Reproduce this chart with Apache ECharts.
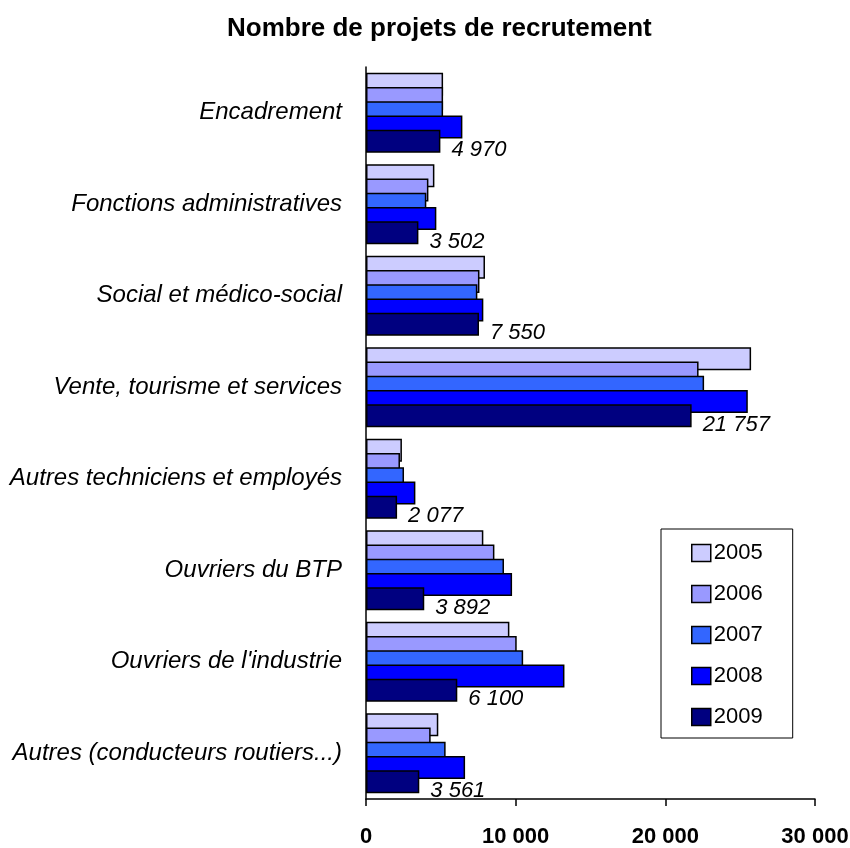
<!DOCTYPE html>
<html>
<head>
<meta charset="utf-8">
<script src="https://cdn.jsdelivr.net/npm/echarts@6/dist/echarts.min.js"></script>
<style>
  html, body { margin: 0; padding: 0; background: #fff; }
  #chart { width: 850px; height: 848px; }
</style>
</head>
<body>
<div id="chart"></div>
<script>
var categories = [
    'Encadrement',
    'Fonctions administratives',
    'Social et médico-social',
    'Vente, tourisme et services',
    'Autres techniciens et employés',
    'Ouvriers du BTP',
    "Ouvriers de l'industrie",
    'Autres (conducteurs routiers...)'
];
var years = ['2005', '2006', '2007', '2008', '2009'];
var v2005 = [5150, 4570, 7950, 25730, 2400, 7840, 9580, 4830];
var v2006 = [5150, 4170, 7580, 22220, 2270, 8580, 10070, 4320];
var v2007 = [5150, 4030, 7440, 22590, 2540, 9220, 10500, 5320];
var v2008 = [6440, 4700, 7840, 25510, 3300, 9760, 13260, 6620];
var v2009 = [4970, 3502, 7550, 21757, 2077, 3892, 6100, 3561];
var xTicks = [0, 10000, 20000, 30000];
var colors = ['#CCCCFF', '#9999FF', '#3366FF', '#0000FF', '#000080'];

var font = "'Liberation Sans', Arial, sans-serif";

function fmt(v) {
    return String(v).replace(/\B(?=(\d{3})+(?!\d))/g, ' ');
}

var chart = echarts.init(document.getElementById('chart'));
var allValues = [v2005, v2006, v2007, v2008, v2009];

var series = years.map(function (y, i) {
    var s = {
        name: y,
        type: 'bar',
        data: allValues[i],
        barWidth: 23,
        barGap: '-38%',
        barCategoryGap: '10%',
        itemStyle: {
            color: colors[i],
            borderColor: '#000',
            borderWidth: 1.5
        }
    };
    if (i === 4) {
        // seule 2009 porte les étiquettes
        s.label = {
            show: true,
            position: 'right',
            distance: 11,
            offset: [0, 9],
            color: '#000',
            fontFamily: font,
            fontStyle: 'italic',
            fontSize: 22,
            formatter: function (p) { return fmt(p.value); }
        };
    }
    return s;
});

var option = {
    animation: false,
    title: {
        text: 'Nombre de projets de recrutement',
        left: 222,
        top: 11,
        textStyle: {
            fontFamily: font,
            fontWeight: 'bold',
            fontSize: 26,
            color: '#000'
        }
    },
    legend: {
        data: years,
        orient: 'vertical',
        left: 661,
        top: 529,
        padding: [13, 30, 10, 30],
        itemGap: 19,
        itemWidth: 19,
        itemHeight: 17,
        icon: 'rect',
        borderColor: '#000',
        borderWidth: 1,
        backgroundColor: '#fff',
        itemStyle: { borderColor: '#000', borderWidth: 1.5 },
        textStyle: {
            fontFamily: font,
            fontSize: 22,
            color: '#000',
            padding: [0, 0, 0, -2]
        }
    },
    grid: {
        left: 366,
        right: 35,
        top: 67,
        bottom: 49,
        outerBoundsMode: 'none'
    },
    xAxis: {
        type: 'value',
        min: xTicks[0],
        max: xTicks[xTicks.length - 1],
        interval: 10000,
        splitLine: { show: false },
        axisLine: { show: true, lineStyle: { color: '#000', width: 1.5 } },
        axisTick: { show: true, length: 7, lineStyle: { color: '#000', width: 1.5 } },
        axisLabel: {
            margin: 27,
            color: '#000',
            fontFamily: font,
            fontWeight: 'bold',
            fontSize: 22,
            formatter: function (v) { return fmt(v); }
        }
    },
    yAxis: {
        type: 'category',
        data: categories,
        inverse: true,
        axisLine: { show: true, lineStyle: { color: '#000', width: 1.5 } },
        axisTick: { show: false },
        axisLabel: {
            margin: 24,
            color: '#000',
            fontFamily: font,
            fontStyle: 'italic',
            fontSize: 24
        }
    },
    series: series
};

chart.setOption(option);
</script>
</body>
</html>
